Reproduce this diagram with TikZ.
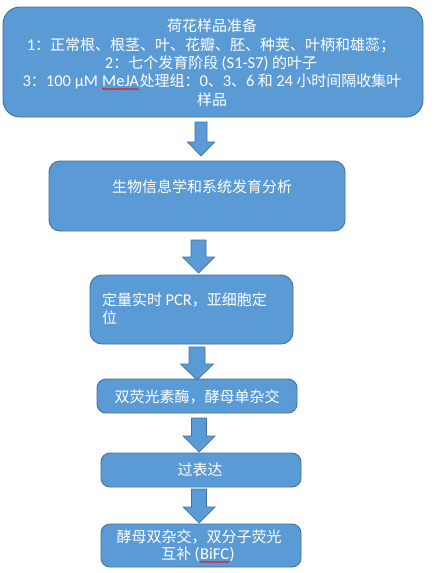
\documentclass[tikz,border=0pt]{standalone}
\usepackage{fontspec}
\setmainfont{Noto Sans CJK SC}
\newfontfamily\lat[Scale=1.1]{Carlito}
\usetikzlibrary{decorations.pathmorphing}
\definecolor{boxfill}{HTML}{5B9BD5}
\definecolor{boxline}{HTML}{41719C}
\tikzset{
  stagebox/.style={draw=boxline, fill=boxfill, line width=0.9pt},
  txt/.style={text=white, font=\fontsize{15}{18.5}\selectfont, inner sep=0pt},
  blk/.style={draw=boxline, fill=boxfill, line width=0.7pt, line join=miter},
  spell/.style={draw=red, line width=0.6pt, decorate, decoration={snake, amplitude=0.8pt, segment length=3pt}}
}
\newcommand\spellw[1]{\tikz[baseline=(sw.base)]{\node[inner sep=0pt, text=white] (sw) {#1};
  \draw[spell] ([yshift=-2.5pt]sw.base west) -- ([yshift=-2.5pt]sw.base east);}}
\newcommand\blkarrow[6]{% cx, shafthalf, headhalf, top, headstart, tip
  \draw[blk] (#1-#2,#4) -- (#1+#2,#4) -- (#1+#2,#5) -- (#1+#3,#5) -- (#1,#6)
    -- (#1-#3,#5) -- (#1-#2,#5) -- cycle;}
\begin{document}
\begin{tikzpicture}[x=1pt,y=-1pt]
\useasboundingbox (0,0) rectangle (440,573);
\fill[white] (0,0) rectangle (440,573);
% boxes
\draw[stagebox, rounded corners=17pt] (3,7) rectangle (423,117);
\draw[stagebox, rounded corners=11pt] (49,161) rectangle (345,231);
\draw[stagebox, rounded corners=12pt] (90,275) rectangle (293,344);
\draw[stagebox, rounded corners=9pt] (97,379) rectangle (297,413);
\draw[stagebox, rounded corners=9pt] (101,453) rectangle (301,487);
\draw[stagebox, rounded corners=9pt] (101,524) rectangle (301,567);
% texts
\node[txt] (t1a) at (212,26) {荷花样品准备};
\node[txt] (t1b) at (211,45) {{\lat 1}：正常根、根茎、叶、花瓣、胚、种荚、叶柄和雄蕊；};
\node[txt] (t1c) at (211,63) {{\lat 2}：七个发育阶段 {\lat (S1-S7)} 的叶子};
\node[txt] (t1d) at (212,82) {{\lat 3}：{\lat 100 µM \spellw{MeJA}}处理组：{\lat 0}、{\lat 3}、{\lat 6} 和 {\lat 24} 小时间隔收集叶};
\node[txt] (t1e) at (212,100) {样品};
\node[txt, anchor=west] (t2) at (112,187) {生物信息学和系统发育分析};
\node[txt, anchor=west] (t3a) at (102,300) {定量实时 {\lat PCR}，亚细胞定};
\node[txt, anchor=west] (t3b) at (102,318) {位};
\node[txt] (t4) at (197,397) {双荧光素酶，酵母单杂交};
\node[txt] (t5) at (200,470) {过表达};
\node[txt] (t6a) at (199,537) {酵母双杂交，双分子荧光};
\node[txt] (t6b) at (198,555) {互补 {\lat (\spellw{BiFC})}};
% block arrows
\blkarrow{201}{6}{13.5}{122}{142}{156}
\blkarrow{198.5}{7.5}{16}{240}{257}{273}
\blkarrow{197}{8}{16.5}{347}{364}{380}
\blkarrow{199}{7.5}{16}{418}{436}{452}
\blkarrow{199}{7.5}{16}{489}{507}{523}
\end{tikzpicture}
\end{document}
